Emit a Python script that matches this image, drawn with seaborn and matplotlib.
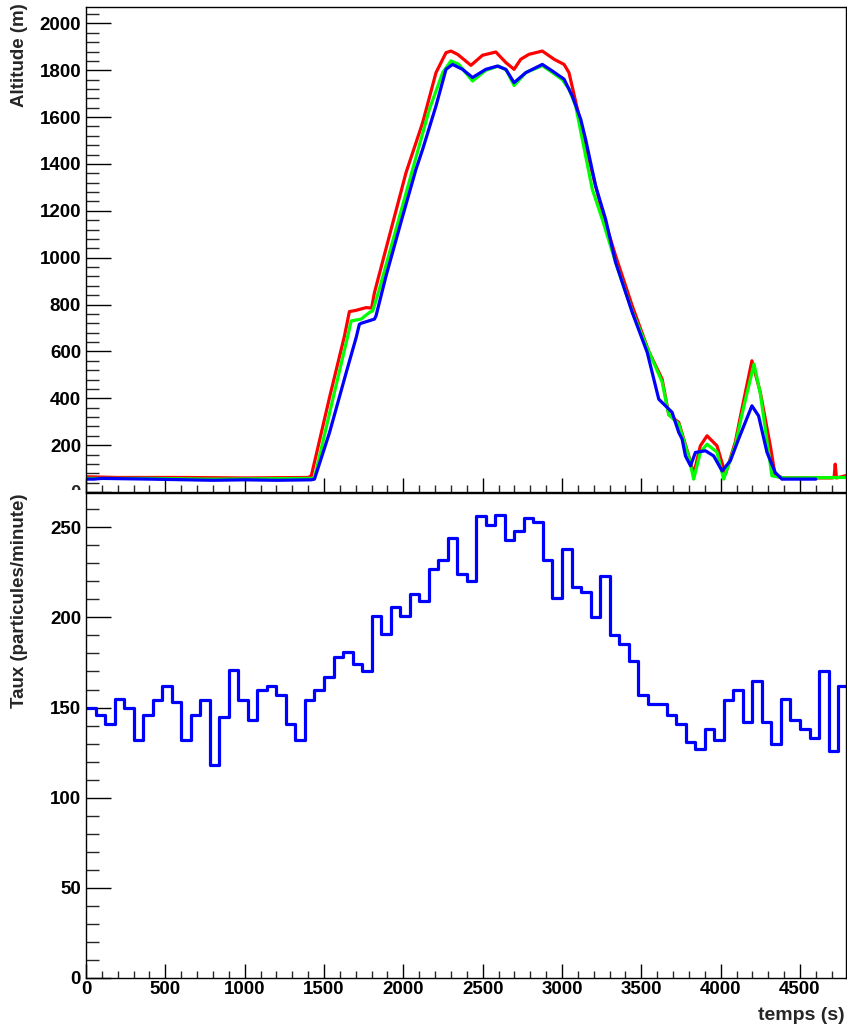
import numpy as np
import pandas as pd
import matplotlib
matplotlib.use("Agg")
import matplotlib.pyplot as plt
import seaborn as sns
from matplotlib.ticker import MultipleLocator
from matplotlib.transforms import Bbox, TransformedBbox

# ---------------- data ----------------
red_t = [0, 200, 600, 1000, 1400, 1420, 1535, 1629, 1660, 1700, 1765, 1800, 1818, 1912,
         2017, 2122, 2206, 2269, 2300, 2342, 2426, 2499, 2583, 2646, 2698, 2740, 2792,
         2876, 2950, 3013, 3044, 3107, 3170, 3254, 3338, 3443, 3547, 3631, 3673, 3736,
         3799, 3830, 3872, 3914, 3977, 4030, 4092, 4134, 4197, 4250, 4313, 4344, 4400,
         4700, 4715, 4722, 4730, 4790]
red_alt = [65, 62, 62, 60, 62, 69, 404, 666, 770, 775, 787, 785, 851, 1093,
           1363, 1577, 1790, 1875, 1882, 1868, 1821, 1864, 1878, 1833, 1804, 1847, 1868,
           1882, 1847, 1825, 1790, 1605, 1420, 1193, 1008, 794, 600, 482, 330, 297,
           154, 76, 197, 240, 197, 76, 212, 354, 560, 425, 197, 69, 60,
           60, 62, 119, 60, 70]

green_t = [0, 400, 800, 1200, 1420, 1440, 1550, 1650, 1671, 1734, 1786, 1807, 1849, 1954,
           2059, 2164, 2248, 2300, 2350, 2436, 2520, 2600, 2650, 2698, 2772, 2876, 2940,
           3002, 3044, 3086, 3191, 3254, 3338, 3443, 3547, 3631, 3673, 3736, 3799, 3830,
           3872, 3914, 3977, 4019, 4092, 4134, 4210, 4250, 4323, 4400, 4790]
green_alt = [58, 58, 55, 57, 58, 60, 380, 666, 730, 738, 766, 773, 866, 1122,
             1378, 1633, 1790, 1840, 1825, 1754, 1800, 1818, 1800, 1735, 1790, 1820, 1790,
             1760, 1720, 1648, 1292, 1164, 980, 770, 600, 470, 330, 290, 150, 55,
             170, 204, 170, 55, 200, 330, 546, 420, 69, 60, 62]

blue_t = [0, 50, 100, 400, 800, 1000, 1200, 1420, 1440, 1535, 1640, 1703, 1723, 1734,
          1818, 1828, 1891, 1996, 2080, 2122, 2206, 2269, 2310, 2373, 2436, 2520, 2593,
          2646, 2698, 2772, 2876, 2939, 3013, 3065, 3118, 3149, 3212, 3275, 3338, 3443,
          3537, 3610, 3673, 3694, 3736, 3757, 3778, 3810, 3841, 3904, 3956, 4009, 4061,
          4113, 4197, 4239, 4292, 4344, 4386, 4600]
blue_alt = [55, 55, 58, 55, 50, 52, 50, 52, 55, 254, 510, 660, 716, 720,
            738, 752, 922, 1178, 1378, 1463, 1648, 1804, 1825, 1804, 1769, 1804, 1818,
            1804, 1747, 1790, 1825, 1797, 1762, 1690, 1591, 1505, 1306, 1164, 980, 766,
            596, 396, 354, 340, 254, 226, 154, 112, 169, 176, 154, 90, 133,
            226, 368, 325, 169, 83, 55, 55]

bin_width = 60
rate = [150, 146, 141, 155, 150, 132, 146, 154, 162, 153,
        132, 146, 154, 118, 145, 171, 154, 143, 160, 162,
        157, 141, 132, 154, 160, 167, 178, 181, 174, 170,
        201, 191, 206, 201, 213, 209, 227, 232, 244, 224,
        220, 256, 251, 257, 243, 248, 255, 253, 232, 211,
        238, 217, 214, 200, 223, 190, 185, 176, 157, 152,
        152, 146, 141, 131, 127, 138, 132, 154, 160, 142,
        165, 142, 130, 155, 143, 138, 133, 170, 126, 162]

x_ticks_major = 500
x_ticks_minor = 100

# ---------------- figure ----------------
sns.set_style("white")
plt.rcParams["font.family"] = ["Liberation Sans", "DejaVu Sans"]
plt.rcParams["font.weight"] = "bold"

W, H = 847, 1026
fig = plt.figure(figsize=(W / 100, H / 100), dpi=100)


def box(x0, y0, x1, y1):
    return [x0 / W, 1 - y1 / H, (x1 - x0) / W, (y1 - y0) / H]


ax1 = fig.add_axes(box(86, 7, 846, 492))
ax2 = fig.add_axes(box(86, 493, 846, 978))

alt_df = pd.concat([
    pd.DataFrame({"t": red_t, "alt": red_alt, "s": "r"}),
    pd.DataFrame({"t": green_t, "alt": green_alt, "s": "g"}),
    pd.DataFrame({"t": blue_t, "alt": blue_alt, "s": "b"}),
])
for s, c in [("r", "#ff0000"), ("g", "#00ff00"), ("b", "#0000ff")]:
    d = alt_df[alt_df["s"] == s]
    sns.lineplot(data=d, x="t", y="alt", ax=ax1, color=c, linewidth=2.3,
                 estimator=None, sort=False, legend=False)

edges = np.arange(len(rate) + 1) * bin_width
rate_df = pd.DataFrame({"t": edges, "rate": list(rate) + [rate[-1]]})
sns.lineplot(data=rate_df, x="t", y="rate", ax=ax2, color="#0000ff", linewidth=2.3,
             drawstyle="steps-post", estimator=None, sort=False, legend=False)

for ax in (ax1, ax2):
    ax.set_xlim(0, 4790)
    ax.xaxis.set_major_locator(MultipleLocator(x_ticks_major))
    ax.xaxis.set_minor_locator(MultipleLocator(x_ticks_minor))
    ax.tick_params(axis="x", which="major", direction="in", length=10, width=1,
                   bottom=True, top=False, labelsize=13.5, pad=2.5, colors="black")
    ax.tick_params(axis="x", which="minor", direction="in", length=5, width=1,
                   bottom=True, top=False)
    ax.tick_params(axis="y", which="major", direction="in", length=18, width=1,
                   left=True, right=False, labelsize=13.5, pad=3.6, colors="black")
    ax.tick_params(axis="y", which="minor", direction="in", length=9, width=1,
                   left=True, right=False)
    for sp in ax.spines.values():
        sp.set_linewidth(1.0)
        sp.set_color("black")
        sp.set_visible(True)
    ax.set_xlabel("")
    ax.set_ylabel("")
    for lab in ax.get_xticklabels() + ax.get_yticklabels():
        lab.set_fontweight("bold")

ax1.set_ylim(0, 2070)
ax1.yaxis.set_major_locator(MultipleLocator(200))
ax1.yaxis.set_minor_locator(MultipleLocator(40))
ax1.set_yticks(range(0, 2001, 200))
ax1.set_yticklabels([""] + [str(v) for v in range(200, 2001, 200)], fontweight="bold")
ax1.tick_params(axis="x", labelbottom=False)

ax2.set_ylim(0, 269)
ax2.yaxis.set_major_locator(MultipleLocator(50))
ax2.yaxis.set_minor_locator(MultipleLocator(10))
ax2.set_xticks(range(0, 4501, 500))
ax2.set_xticklabels([str(v) for v in range(0, 4501, 500)], fontweight="bold")
ax2.set_yticks(range(0, 251, 50))
ax2.set_yticklabels([str(v) for v in range(0, 251, 50)], fontweight="bold")

# clipped "0" label of the upper pad (hidden behind the lower pad)
zero = fig.text(81 / W, 1 - 493 / H, "0", ha="right", va="center",
                fontsize=13.5, fontweight="bold")
zero.set_clip_on(True)
zero.set_clip_box(TransformedBbox(Bbox.from_extents(0, 1 - 489.5 / H, 1, 1), fig.transFigure))

fig.text(20 / W, 1 - 3 / H, "Altitude (m)", rotation=90, ha="center", va="top",
         fontsize=13.5, fontweight="bold")
fig.text(20 / W, 1 - 494 / H, "Taux (particules/minute)", rotation=90, ha="center",
         va="top", fontsize=13.5, fontweight="bold")
fig.text(845 / W, 1 - 1015 / H, "temps (s)", ha="right", va="center",
         fontsize=14, fontweight="bold")

fig.savefig("out.png", dpi=100)
